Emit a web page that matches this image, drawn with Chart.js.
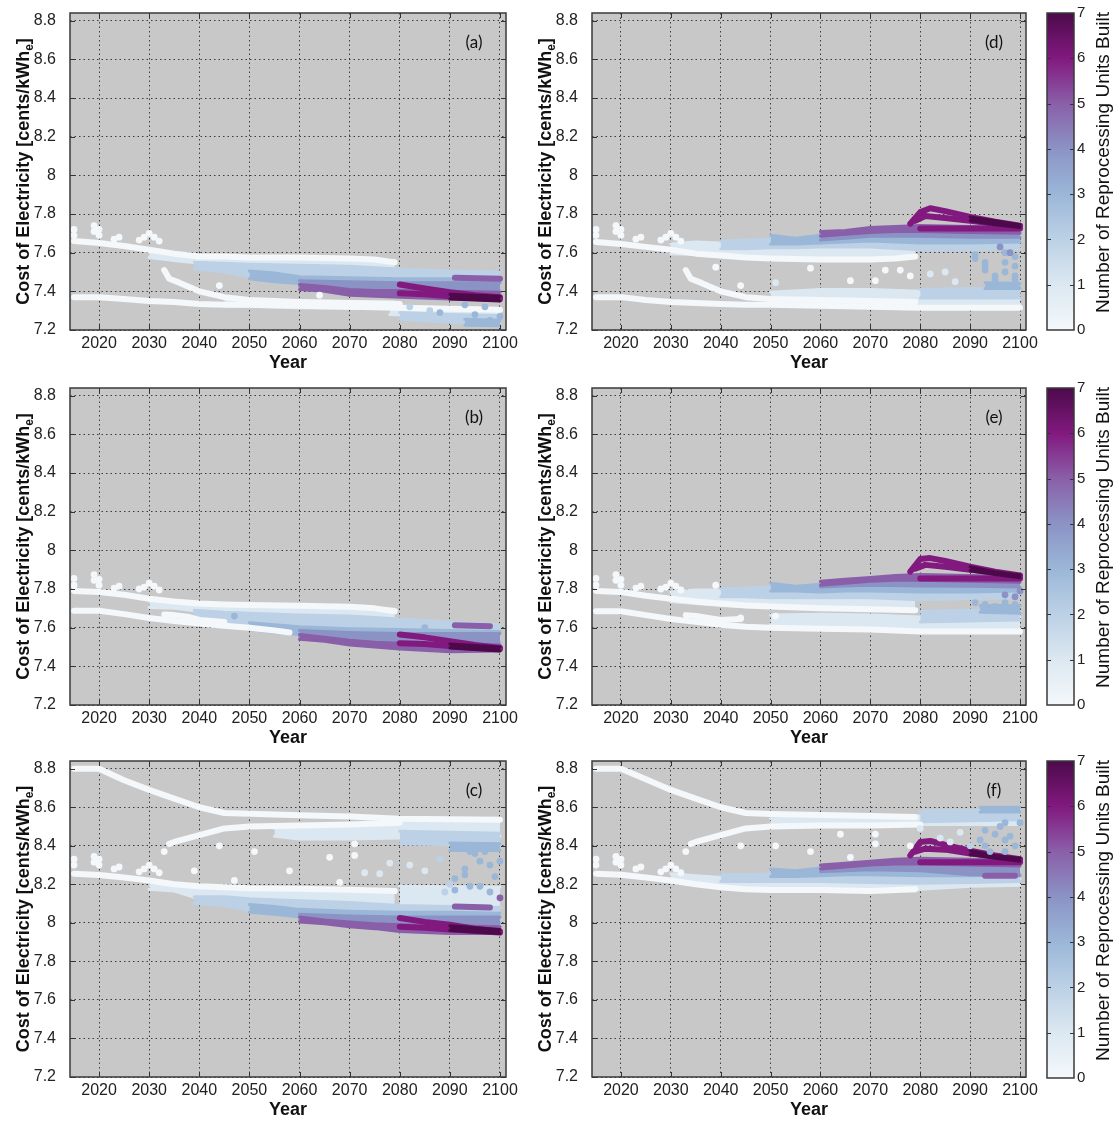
<!DOCTYPE html>
<html>
<head>
<meta charset="utf-8">
<script src="https://cdn.jsdelivr.net/npm/chart.js@4.4.1/dist/chart.umd.min.js"></script>
<style>
  html, body { margin: 0; padding: 0; background: #fff; }
  #wrap { position: relative; width: 1115px; height: 1122px; overflow: hidden; background: #fff; }
  #wrap canvas { position: absolute; }
</style>
</head>
<body>
<div id="wrap"></div>
<script>
// ---- axes / colour scale ----
const xTicks = [2020, 2030, 2040, 2050, 2060, 2070, 2080, 2090, 2100];
const yTicks = [7.2, 7.4, 7.6, 7.8, 8, 8.2, 8.4, 8.6, 8.8];
const cbTicks = [0, 1, 2, 3, 4, 5, 6, 7];
const levelColors = ['#f4f8fb', '#dce8f1', '#bcd1e5', '#9bb7d8', '#8b93c5', '#8a5fa9', '#82197f', '#4c0a4b'];
const letters = ['(a)', '(b)', '(c)', '(d)', '(e)', '(f)'];

// ---- tracks: [level, rows]; row = [year, top, bottom] for a band, [year, value] for a single row of dots ----
const aTracks = [
  [1, [[2030,7.605,7.575],[2035,7.595,7.56],[2040,7.58,7.545],[2050,7.575,7.535],[2060,7.57,7.53],[2070,7.565,7.525],[2079,7.56,7.515]]],
  [1, [[2045,7.36,7.325],[2060,7.35,7.315],[2079,7.345,7.31]]],
  [1, [[2078,7.32,7.28],[2090,7.315,7.27],[2100,7.31,7.265]]],
  [2, [[2080,7.29,7.255],[2090,7.28,7.24],[2100,7.275,7.225]]],
  [2, [[2039,7.55,7.515],[2045,7.545,7.50],[2050,7.54,7.475],[2060,7.535,7.45],[2070,7.53,7.435],[2080,7.515,7.42],[2090,7.505,7.40],[2100,7.50,7.40]]],
  [3, [[2050,7.505,7.465],[2055,7.495,7.45],[2060,7.475,7.44],[2070,7.47,7.425],[2080,7.465,7.415],[2090,7.465,7.405],[2100,7.46,7.405]]],
  [3, [[2093,7.255,7.225],[2100,7.25,7.222]]],
  [4, [[2060,7.455,7.425],[2070,7.45,7.41],[2080,7.445,7.40],[2090,7.445,7.395],[2100,7.445,7.395]]],
  [5, [[2060,7.435,7.41],[2065,7.425,7.40],[2070,7.41,7.38],[2075,7.405,7.375],[2080,7.405,7.37],[2090,7.40,7.36],[2100,7.395,7.355]]],
  [0, [[2015,7.66],[2020,7.65],[2025,7.635],[2030,7.615],[2035,7.595],[2040,7.58],[2045,7.58],[2050,7.575],[2060,7.575],[2070,7.57],[2075,7.565],[2079,7.55]]],
  [0, [[2015,7.37],[2020,7.37],[2025,7.36],[2030,7.35],[2035,7.345],[2040,7.335],[2045,7.33],[2050,7.33],[2060,7.325],[2070,7.32],[2080,7.315],[2090,7.31],[2100,7.305]]],
  [0, [[2033,7.51],[2034,7.465],[2036,7.445],[2040,7.40],[2045,7.37],[2050,7.355],[2060,7.345],[2070,7.34],[2080,7.335]]],
  [5, [[2091,7.47],[2100,7.465]]],
  [6, [[2080,7.435],[2085,7.415],[2090,7.395],[2095,7.38],[2100,7.37]]],
  [6, [[2080,7.39],[2085,7.385],[2090,7.375],[2095,7.365],[2100,7.36]]],
  [7, [[2090,7.385,7.36],[2100,7.375,7.35]]]
];
const bTracks = [
  [1, [[2030,7.745,7.705],[2035,7.735,7.70],[2040,7.725,7.685],[2050,7.715,7.675],[2060,7.71,7.665],[2070,7.705,7.655],[2079,7.695,7.645]]],
  [2, [[2039,7.69,7.625],[2045,7.68,7.61],[2050,7.675,7.595],[2060,7.665,7.575],[2070,7.66,7.56],[2080,7.645,7.545],[2090,7.63,7.54],[2100,7.615,7.545]]],
  [3, [[2050,7.625,7.59],[2055,7.615,7.575],[2060,7.605,7.565],[2070,7.595,7.55],[2080,7.59,7.535],[2090,7.585,7.525],[2100,7.58,7.525]]],
  [4, [[2060,7.585,7.555],[2070,7.575,7.54],[2080,7.57,7.525],[2090,7.57,7.515],[2100,7.57,7.51]]],
  [5, [[2060,7.565,7.54],[2065,7.55,7.53],[2070,7.535,7.51],[2075,7.525,7.50],[2080,7.52,7.49],[2090,7.515,7.475],[2100,7.51,7.48]]],
  [0, [[2015,7.79],[2020,7.785],[2025,7.77],[2030,7.75],[2035,7.735],[2040,7.725],[2045,7.72],[2050,7.717],[2060,7.713],[2070,7.708],[2075,7.70],[2079,7.685]]],
  [0, [[2015,7.688],[2020,7.688],[2025,7.67],[2030,7.65],[2035,7.635],[2040,7.622],[2045,7.61],[2050,7.60],[2055,7.585],[2058,7.575]]],
  [0, [[2033,7.668],[2035,7.665],[2038,7.655],[2040,7.64],[2045,7.63]]],
  [5, [[2091,7.612],[2098,7.608]]],
  [6, [[2080,7.565],[2085,7.55],[2090,7.53],[2095,7.51],[2100,7.495]]],
  [6, [[2080,7.52],[2085,7.515],[2090,7.505],[2095,7.495],[2100,7.49]]],
  [7, [[2090,7.515,7.495],[2100,7.50,7.48]]]
];
const cTracks = [
  [1, [[2055,8.49,8.45],[2060,8.505,8.435],[2070,8.51,8.435],[2080,8.53,8.44],[2090,8.53,8.445],[2100,8.53,8.45]]],
  [2, [[2080,8.475,8.41],[2090,8.47,8.405],[2100,8.465,8.40]]],
  [3, [[2090,8.415,8.375],[2100,8.41,8.375]]],
  [1, [[2030,8.225,8.175],[2035,8.205,8.165],[2040,8.19,8.125],[2050,8.18,8.11],[2060,8.175,8.10],[2070,8.17,8.095],[2079,8.16,8.09]]],
  [1, [[2080,8.19,8.08],[2100,8.185,8.08]]],
  [2, [[2039,8.135,8.10],[2045,8.135,8.09],[2050,8.125,8.065],[2060,8.115,8.045],[2070,8.105,8.03],[2080,8.09,8.02],[2090,8.085,8.02],[2100,8.08,8.02]]],
  [3, [[2050,8.095,8.055],[2055,8.085,8.045],[2060,8.07,8.03],[2070,8.06,8.01],[2080,8.055,8.00],[2090,8.055,7.995],[2100,8.05,8.00]]],
  [4, [[2060,8.045,8.015],[2070,8.035,8.00],[2080,8.03,7.985],[2090,8.03,7.98],[2100,8.03,7.98]]],
  [5, [[2060,8.03,8.005],[2065,8.015,7.995],[2070,8.005,7.98],[2075,7.995,7.97],[2080,7.99,7.955],[2090,7.985,7.945],[2100,7.98,7.945]]],
  [0, [[2015,8.80],[2020,8.80],[2025,8.74],[2030,8.69],[2035,8.645],[2040,8.60],[2045,8.57],[2050,8.566],[2060,8.558],[2070,8.552],[2080,8.54],[2090,8.538],[2100,8.535]]],
  [0, [[2034,8.41],[2035,8.42],[2040,8.455],[2045,8.49],[2050,8.50],[2060,8.505],[2070,8.51],[2080,8.52]]],
  [0, [[2015,8.255],[2020,8.248],[2025,8.235],[2030,8.22],[2035,8.20],[2040,8.19],[2045,8.185],[2050,8.18],[2060,8.177],[2070,8.172],[2079,8.165]]],
  [5, [[2091,8.085],[2098,8.08]]],
  [6, [[2080,8.025],[2085,8.005],[2090,7.99],[2095,7.97],[2100,7.955]]],
  [6, [[2080,7.98],[2085,7.975],[2090,7.965],[2095,7.958],[2100,7.95]]],
  [7, [[2090,7.985,7.96],[2100,7.965,7.945]]]
];
const dTracks = [
  [1, [[2030,7.645,7.595],[2035,7.655,7.59],[2040,7.65,7.58],[2050,7.645,7.575],[2060,7.645,7.57],[2070,7.645,7.57],[2079,7.645,7.575]]],
  [2, [[2040,7.66,7.62],[2045,7.665,7.62],[2050,7.67,7.625],[2055,7.665,7.625],[2060,7.68,7.63],[2065,7.69,7.63],[2070,7.695,7.63],[2080,7.70,7.615],[2090,7.695,7.615],[2100,7.69,7.62]]],
  [3, [[2050,7.69,7.645],[2055,7.675,7.645],[2060,7.69,7.65],[2065,7.70,7.655],[2070,7.705,7.66],[2080,7.71,7.65],[2090,7.705,7.65],[2100,7.705,7.655]]],
  [4, [[2060,7.70,7.665],[2065,7.71,7.675],[2070,7.72,7.685],[2080,7.725,7.685],[2090,7.72,7.68],[2100,7.715,7.68]]],
  [5, [[2060,7.71,7.685],[2065,7.715,7.695],[2070,7.73,7.705],[2075,7.735,7.71],[2080,7.74,7.71],[2090,7.735,7.705],[2100,7.73,7.70]]],
  [1, [[2050,7.395,7.35],[2060,7.41,7.345],[2070,7.41,7.34],[2080,7.40,7.33],[2090,7.41,7.33],[2100,7.40,7.33]]],
  [2, [[2080,7.41,7.365],[2090,7.415,7.365],[2100,7.41,7.365]]],
  [3, [[2093,7.445,7.415],[2100,7.44,7.415]]],
  [0, [[2015,7.655],[2020,7.645],[2025,7.63],[2030,7.615],[2035,7.595],[2040,7.585],[2045,7.575],[2050,7.57],[2060,7.565],[2070,7.565],[2075,7.57],[2079,7.58]]],
  [0, [[2015,7.37],[2020,7.37],[2025,7.355],[2030,7.345],[2035,7.34],[2040,7.335],[2045,7.33],[2050,7.33],[2060,7.325],[2070,7.32],[2080,7.315],[2090,7.315],[2100,7.315]]],
  [0, [[2033,7.51],[2034,7.465],[2036,7.445],[2040,7.40],[2045,7.37],[2050,7.36],[2060,7.355],[2070,7.35],[2079,7.345]]],
  [6, [[2080,7.725],[2100,7.725]]],
  [6, [[2078,7.75],[2080,7.81],[2082,7.83],[2085,7.815],[2090,7.785],[2095,7.76],[2100,7.74]]],
  [6, [[2079,7.765],[2081,7.79],[2085,7.78],[2090,7.765],[2095,7.75],[2100,7.735]]],
  [7, [[2090,7.785,7.765],[2095,7.765,7.745],[2100,7.745,7.73]]]
];
const eTracks = [
  [1, [[2030,7.785,7.735],[2035,7.795,7.725],[2040,7.795,7.715],[2050,7.785,7.705],[2060,7.785,7.70],[2070,7.785,7.695],[2079,7.785,7.69]]],
  [2, [[2040,7.80,7.76],[2045,7.805,7.76],[2050,7.81,7.755],[2055,7.80,7.755],[2060,7.815,7.755],[2065,7.82,7.755],[2070,7.825,7.755],[2080,7.825,7.745],[2090,7.82,7.75],[2100,7.815,7.755]]],
  [3, [[2050,7.83,7.79],[2055,7.815,7.79],[2060,7.825,7.785],[2065,7.83,7.79],[2070,7.835,7.79],[2080,7.84,7.785],[2090,7.835,7.785],[2100,7.835,7.79]]],
  [4, [[2060,7.835,7.81],[2065,7.845,7.815],[2070,7.85,7.82],[2080,7.855,7.815],[2090,7.85,7.815],[2100,7.845,7.81]]],
  [5, [[2060,7.84,7.82],[2065,7.85,7.83],[2070,7.86,7.84],[2075,7.87,7.845],[2080,7.875,7.845],[2090,7.87,7.84],[2100,7.865,7.835]]],
  [1, [[2050,7.665,7.615],[2060,7.67,7.61],[2070,7.665,7.605],[2080,7.655,7.595],[2090,7.66,7.595],[2100,7.655,7.595]]],
  [2, [[2080,7.685,7.63],[2090,7.69,7.635],[2100,7.685,7.64]]],
  [3, [[2092,7.715,7.68],[2100,7.715,7.675]]],
  [0, [[2015,7.79],[2020,7.785],[2025,7.765],[2030,7.75],[2035,7.735],[2040,7.725],[2045,7.715],[2050,7.71],[2060,7.70],[2070,7.695],[2079,7.69]]],
  [0, [[2015,7.685],[2020,7.685],[2025,7.665],[2030,7.645],[2035,7.63],[2040,7.615],[2045,7.605],[2050,7.60],[2060,7.595],[2070,7.59],[2080,7.58],[2090,7.58],[2100,7.58]]],
  [0, [[2033,7.665],[2035,7.66],[2040,7.64],[2044,7.645]]],
  [6, [[2080,7.855],[2100,7.855]]],
  [6, [[2078,7.89],[2080,7.955],[2082,7.96],[2085,7.945],[2090,7.915],[2095,7.89],[2100,7.87]]],
  [6, [[2079,7.905],[2081,7.925],[2085,7.915],[2090,7.90],[2095,7.885],[2100,7.865]]],
  [7, [[2090,7.915,7.895],[2095,7.89,7.875],[2100,7.872,7.858]]]
];
const fTracks = [
  [1, [[2050,8.54,8.505],[2060,8.545,8.505],[2070,8.55,8.51],[2080,8.555,8.51],[2090,8.545,8.51],[2100,8.54,8.51]]],
  [2, [[2080,8.58,8.525],[2090,8.585,8.53],[2100,8.59,8.535]]],
  [3, [[2092,8.60,8.575],[2100,8.60,8.575]]],
  [1, [[2030,8.255,8.21],[2035,8.245,8.20],[2040,8.235,8.185],[2050,8.235,8.175],[2060,8.225,8.17],[2070,8.225,8.165],[2080,8.225,8.175],[2090,8.23,8.19],[2100,8.23,8.195]]],
  [2, [[2040,8.25,8.215],[2045,8.25,8.215],[2050,8.255,8.215],[2055,8.25,8.215],[2060,8.265,8.215],[2070,8.275,8.21],[2080,8.275,8.205],[2090,8.275,8.21],[2100,8.275,8.215]]],
  [3, [[2050,8.28,8.24],[2055,8.27,8.24],[2060,8.285,8.245],[2065,8.295,8.25],[2070,8.30,8.25],[2080,8.305,8.245],[2090,8.305,8.245],[2100,8.30,8.25]]],
  [4, [[2060,8.295,8.265],[2065,8.305,8.27],[2070,8.31,8.275],[2080,8.315,8.27],[2090,8.315,8.25],[2100,8.31,8.245]]],
  [5, [[2060,8.30,8.28],[2065,8.31,8.29],[2070,8.32,8.30],[2075,8.33,8.305],[2080,8.335,8.305],[2090,8.33,8.30],[2100,8.325,8.295]]],
  [0, [[2015,8.80],[2020,8.80],[2025,8.745],[2030,8.69],[2035,8.645],[2040,8.60],[2045,8.57],[2050,8.565],[2060,8.56],[2070,8.555],[2079,8.55]]],
  [0, [[2034,8.41],[2035,8.42],[2040,8.455],[2045,8.49],[2050,8.50],[2060,8.505],[2070,8.505],[2080,8.51]]],
  [0, [[2015,8.255],[2020,8.25],[2025,8.235],[2030,8.22],[2035,8.20],[2040,8.185],[2045,8.175],[2050,8.17],[2060,8.17],[2070,8.165],[2079,8.175]]],
  [5, [[2093,8.245],[2099,8.245]]],
  [6, [[2080,8.315],[2100,8.315]]],
  [6, [[2078,8.35],[2080,8.42],[2082,8.425],[2085,8.405],[2090,8.375],[2095,8.35],[2100,8.33]]],
  [6, [[2079,8.37],[2081,8.385],[2085,8.38],[2090,8.36],[2095,8.345],[2100,8.325]]],
  [7, [[2090,8.375,8.355],[2095,8.35,8.335],[2100,8.335,8.32]]]
];

// ---- single dots: [year, value, level] ----
const spikesRow1 = [[2015,7.72,0],[2015,7.69,0],[2019,7.74,0],[2019,7.71,0],[2020,7.72,0],[2020,7.69,0],[2023,7.67,0],[2024,7.68,0],[2028,7.665,0],[2029,7.68,0],[2030,7.70,0],[2031,7.68,0],[2032,7.66,0]];
const spikesRow2 = [[2015,7.855,0],[2015,7.82,0],[2019,7.875,0],[2019,7.845,0],[2020,7.85,0],[2020,7.82,0],[2023,7.805,0],[2024,7.815,0],[2028,7.80,0],[2029,7.81,0],[2030,7.83,0],[2031,7.815,0],[2032,7.795,0]];
const spikesRow3 = [[2015,8.33,0],[2015,8.30,0],[2019,8.345,0],[2019,8.315,0],[2020,8.33,0],[2020,8.30,0],[2023,8.28,0],[2024,8.29,0],[2028,8.265,0],[2029,8.28,0],[2030,8.30,0],[2031,8.28,0],[2032,8.26,0]];
const aDots = [[2044,7.43,0],[2064,7.38,0],[2082,7.32,2],[2086,7.30,2],[2088,7.29,3],[2093,7.33,3],[2095,7.28,3],[2097,7.32,3],[2098,7.25,3],[2100,7.27,3]];
const bDots = [[2047,7.66,3],[2085,7.60,3]];
const cDots = [[2033,8.37,0],[2039,8.27,0],[2044,8.40,0],[2047,8.22,0],[2051,8.37,0],[2058,8.27,0],[2066,8.34,0],[2068,8.21,0],[2071,8.35,0],[2071,8.41,0],
  [2073,8.26,1],[2076,8.255,1],[2078,8.31,1],[2082,8.30,1],[2085,8.27,1],[2088,8.33,2],[2089,8.16,2],[2090,8.20,2],
  [2091,8.23,3],[2093,8.28,3],[2094,8.37,3],[2096,8.32,3],[2098,8.30,3],[2100,8.32,3],[2091,8.17,3],[2093,8.25,3],[2094,8.19,3],[2096,8.19,3],[2098,8.16,3],[2099,8.24,3],[2097,8.37,3],[2095,8.36,3],[2100,8.13,5]];
const dDots = [[2039,7.525,0],[2044,7.43,0],[2051,7.445,1],[2058,7.52,0],[2066,7.455,0],[2071,7.455,0],[2073,7.51,0],[2076,7.51,0],[2078,7.48,0],
  [2082,7.49,1],[2085,7.50,1],[2087,7.45,1],[2091,7.59,3],[2091,7.57,3],[2093,7.55,3],[2093,7.53,3],[2093,7.51,3],[2095,7.48,3],[2095,7.46,3],
  [2097,7.60,3],[2097,7.55,3],[2097,7.50,3],[2099,7.58,3],[2099,7.53,3],[2099,7.48,3],[2099,7.46,3],[2098,7.60,4],[2096,7.63,4]];
const eDots = [[2039,7.82,0],[2044,7.65,0],[2051,7.66,0],[2091,7.73,3],[2093,7.72,3],[2095,7.71,3],[2097,7.73,3],[2099,7.72,3],[2097,7.77,4],[2099,7.76,4],[2100,7.79,4]];
const fDots = [[2033,8.37,0],[2044,8.40,0],[2051,8.40,0],[2058,8.37,0],[2064,8.46,0],[2066,8.34,0],[2071,8.46,0],[2071,8.41,0],[2078,8.40,0],
  [2080,8.49,1],[2084,8.44,1],[2086,8.42,1],[2088,8.47,1],[2090,8.40,2],[2092,8.43,3],[2093,8.48,3],[2094,8.37,3],[2095,8.46,3],[2096,8.50,3],
  [2097,8.43,3],[2098,8.45,3],[2099,8.40,3],[2093,8.40,3],[2097,8.37,3],[2097,8.52,3],[2100,8.52,3]];

// ---- layout ----
const FONT = '"Liberation Sans", Arial, sans-serif';
const wrap = document.getElementById('wrap');
const rowTop = [0, 375, 748];
const rowH = [375, 375, 374];

function makeCanvas(left, top, w, h) {
  const c = document.createElement('canvas');
  c.width = w; c.height = h;
  c.style.left = left + 'px'; c.style.top = top + 'px';
  c.style.width = w + 'px'; c.style.height = h + 'px';
  wrap.appendChild(c);
  return c;
}

// no extra room for half-labels: plot box is fixed by layout padding
function noPad(s) { s.paddingTop = 0; s.paddingBottom = 0; s.paddingLeft = 0; s.paddingRight = 0; }

function buildDatasets(tracks, dots) {
  const ds = [];
  tracks.forEach(([lvl, rows]) => {
    const col = levelColors[lvl];
    const base = { borderColor: col, pointRadius: 0, tension: 0, borderCapStyle: 'round', borderJoinStyle: 'round' };
    if (rows[0].length === 3) {
      ds.push({ ...base, data: rows.map(r => ({ x: r[0], y: r[2] })), borderWidth: 3, fill: false });
      ds.push({ ...base, data: rows.map(r => ({ x: r[0], y: r[1] })), borderWidth: 3, backgroundColor: col, fill: '-1' });
    } else {
      ds.push({ ...base, data: rows.map(r => ({ x: r[0], y: r[1] })), borderWidth: 6, fill: false });
    }
  });
  ds.push({
    data: dots.map(d => ({ x: d[0], y: d[1] })),
    showLine: false, pointRadius: 3.4, pointBorderWidth: 0,
    pointBackgroundColor: dots.map(d => levelColors[d[2]]),
    borderColor: 'transparent'
  });
  // later entries are painted on top
  ds.forEach((d, i) => { d.order = -i; });
  return ds;
}

const panelDecor = {
  id: 'panelDecor',
  beforeDraw(chart) {
    const { ctx, chartArea: a } = chart;
    ctx.save();
    ctx.fillStyle = '#c8c8c8';
    ctx.fillRect(a.left, a.top, a.right - a.left, a.bottom - a.top);
    ctx.restore();
  },
  afterDraw(chart, args, opts) {
    const { ctx, chartArea: a, scales } = chart;
    ctx.save();
    // inward tick marks on all four sides
    ctx.strokeStyle = '#333';
    ctx.lineWidth = 1;
    ctx.beginPath();
    xTicks.forEach(v => {
      const px = Math.round(scales.x.getPixelForValue(v)) + 0.5;
      ctx.moveTo(px, a.bottom); ctx.lineTo(px, a.bottom - 5);
      ctx.moveTo(px, a.top); ctx.lineTo(px, a.top + 5);
    });
    yTicks.forEach(v => {
      const py = Math.round(scales.y.getPixelForValue(v)) + 0.5;
      ctx.moveTo(a.left, py); ctx.lineTo(a.left + 5, py);
      ctx.moveTo(a.right, py); ctx.lineTo(a.right - 5, py);
    });
    ctx.stroke();
    ctx.strokeStyle = '#3a3a3a';
    ctx.lineWidth = 1.5;
    ctx.strokeRect(a.left, a.top, a.right - a.left, a.bottom - a.top);

    // panel letter
    ctx.fillStyle = '#111';
    ctx.font = '17px Lato, ' + FONT;
    ctx.textAlign = 'center';
    ctx.textBaseline = 'middle';
    ctx.fillText(opts.letter, a.right - 32, a.top + 30);

    // y title with subscript e
    ctx.translate(a.left - 46, (a.top + a.bottom) / 2);
    ctx.rotate(-Math.PI / 2);
    const big = 'bold 18px ' + FONT, small = 'bold 12px ' + FONT;
    const main = 'Cost of Electricity [cents/kWh';
    ctx.font = big; const wMain = ctx.measureText(main).width; const wEnd = ctx.measureText(']').width;
    ctx.font = small; const wSub = ctx.measureText('e').width;
    let x = -(wMain + wSub + wEnd) / 2;
    ctx.textAlign = 'left';
    ctx.fillStyle = '#111';
    ctx.font = big; ctx.fillText(main, x, 0); x += wMain;
    ctx.font = small; ctx.fillText('e', x, 6); x += wSub;
    ctx.font = big; ctx.fillText(']', x, 0);
    ctx.restore();
  }
};

function makePanel(idx, tracks, dots, col, row) {
  const left = col === 0 ? 0 : 520;
  const canvas = makeCanvas(left, rowTop[row], 520, rowH[row]);
  new Chart(canvas, {
    type: 'line',
    data: { datasets: buildDatasets(tracks, dots) },
    options: {
      responsive: false,
      animation: false,
      events: [],
      devicePixelRatio: 1,
      layout: { padding: { top: 13, right: 14, left: 0, bottom: 0 } },
      plugins: {
        legend: { display: false },
        tooltip: { enabled: false },
        panelDecor: { letter: letters[idx] }
      },
      scales: {
        x: {
          type: 'linear', min: 2014.2, max: 2101.2,
          afterBuildTicks: s => { s.ticks = xTicks.map(v => ({ value: v })); },
          afterFit: s => { s.height = 45; noPad(s); },
          ticks: { autoSkip: false, maxRotation: 0, padding: 4, color: '#222', font: { family: FONT, size: 16 }, callback: v => String(v) },
          grid: { color: '#3c3c3c', lineWidth: 1, drawTicks: false },
          border: { display: false, dash: [1.5, 3] },
          title: { display: true, text: 'Year', color: '#111', font: { family: FONT, size: 18, weight: 'bold' }, padding: { top: 0, bottom: 1 } }
        },
        y: {
          type: 'linear', min: 7.2, max: 8.84,
          afterBuildTicks: s => { s.ticks = yTicks.map(v => ({ value: v })); },
          afterFit: s => { s.width = col === 0 ? 70 : 72; noPad(s); },
          ticks: { padding: 14, color: '#222', font: { family: FONT, size: 16 }, callback: v => String(v) },
          grid: { color: '#3c3c3c', lineWidth: 1, drawTicks: false },
          border: { display: false, dash: [1.5, 3] }
        }
      }
    },
    plugins: [panelDecor]
  });
}

const cbDecor = {
  id: 'cbDecor',
  afterDraw(chart) {
    const { ctx, chartArea: a, scales } = chart;
    ctx.save();
    ctx.strokeStyle = '#333';
    ctx.lineWidth = 1;
    ctx.beginPath();
    cbTicks.slice(1, -1).forEach(v => {
      const py = Math.round(scales.y.getPixelForValue(v)) + 0.5;
      ctx.moveTo(a.left, py); ctx.lineTo(a.left + 4, py);
      ctx.moveTo(a.right, py); ctx.lineTo(a.right - 4, py);
    });
    ctx.stroke();
    ctx.strokeStyle = '#3a3a3a';
    ctx.lineWidth = 1.5;
    ctx.strokeRect(a.left, a.top, a.right - a.left, a.bottom - a.top);
    ctx.translate(a.right + 30, (a.top + a.bottom) / 2 - 9);
    ctx.rotate(-Math.PI / 2);
    ctx.fillStyle = '#111';
    ctx.font = '19px ' + FONT;
    ctx.textAlign = 'center';
    ctx.textBaseline = 'middle';
    ctx.fillText('Number of Reprocessing Units Built', 0, 0);
    ctx.restore();
  }
};

function makeColorbar(row) {
  const canvas = makeCanvas(1040, rowTop[row], 75, rowH[row]);
  new Chart(canvas, {
    type: 'bar',
    data: {
      labels: [''],
      datasets: [{
        data: [[cbTicks[0], cbTicks[cbTicks.length - 1]]],
        barPercentage: 1, categoryPercentage: 1, borderWidth: 0,
        backgroundColor: c => {
          const a = c.chart.chartArea;
          if (!a) return levelColors[0];
          const g = c.chart.ctx.createLinearGradient(0, a.bottom, 0, a.top);
          levelColors.forEach((col, i) => g.addColorStop(i / (levelColors.length - 1), col));
          return g;
        }
      }]
    },
    options: {
      responsive: false,
      animation: false,
      events: [],
      devicePixelRatio: 1,
      layout: { padding: { top: 13, left: 7, right: 0, bottom: rowH[row] - 330 } },
      plugins: { legend: { display: false }, tooltip: { enabled: false } },
      scales: {
        x: { display: false },
        y: {
          position: 'right', min: 0, max: 7,
          afterBuildTicks: s => { s.ticks = cbTicks.map(v => ({ value: v })); },
          afterFit: s => { s.width = 41; noPad(s); },
          ticks: { padding: 3, color: '#222', font: { family: FONT, size: 15 } },
          grid: { display: false, drawTicks: false },
          border: { display: false }
        }
      }
    },
    plugins: [cbDecor]
  });
}

makePanel(0, aTracks, spikesRow1.concat(aDots), 0, 0);
makePanel(1, bTracks, spikesRow2.concat(bDots), 0, 1);
makePanel(2, cTracks, spikesRow3.concat(cDots), 0, 2);
makePanel(3, dTracks, spikesRow1.concat(dDots), 1, 0);
makePanel(4, eTracks, spikesRow2.concat(eDots), 1, 1);
makePanel(5, fTracks, spikesRow3.concat(fDots), 1, 2);
[0, 1, 2].forEach(makeColorbar);
</script>
</body>
</html>
